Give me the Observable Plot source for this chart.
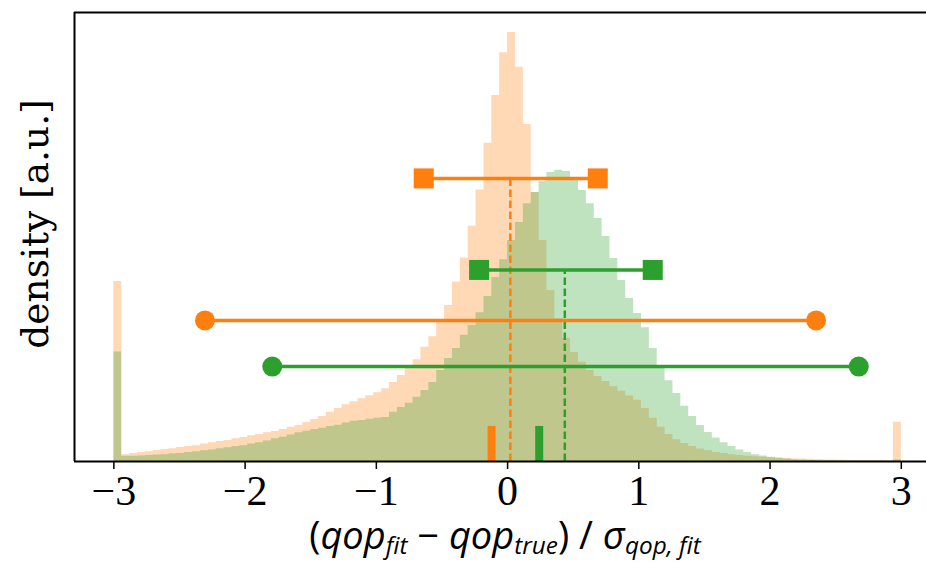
<!DOCTYPE html>
<html>
<head>
<meta charset="utf-8">
<script src="https://cdn.jsdelivr.net/npm/d3@7"></script>
<script src="https://cdn.jsdelivr.net/npm/@observablehq/plot@0.6"></script>
<style>
  html, body { margin: 0; padding: 0; background: #fff; overflow: hidden; }
  #wrap { position: relative; width: 926px; height: 564px; }
  #xlabel {
    position: absolute; left: 0; top: 519px; width: 1010px; text-align: center;
    font-family: "Open Sans", sans-serif; font-size: 38px; color: #000; line-height: 30px;
    white-space: nowrap;
  }
  #xlabel sub { font-size: 0.64em; vertical-align: -0.22em; line-height: 0; }
</style>
</head>
<body>
<div id="wrap"></div>
<script>
// Histogram binning (100 bins over [-3, 3], overflow folded into edge bins)
const binStart = -3;
const binWidth = 0.06;

// Orange histogram: normalized density per bin
const orangeDensity = [
  0.421, 0.016, 0.019, 0.021, 0.023, 0.026, 0.028, 0.030, 0.033, 0.035,
  0.037, 0.041, 0.044, 0.047, 0.049, 0.053, 0.056, 0.060, 0.063, 0.067,
  0.070, 0.075, 0.080, 0.084, 0.091, 0.098, 0.105, 0.115, 0.124, 0.133,
  0.140, 0.147, 0.154, 0.161, 0.170, 0.185, 0.201, 0.221, 0.238, 0.267,
  0.292, 0.330, 0.365, 0.419, 0.476, 0.550, 0.635, 0.744, 0.856, 0.956,
  1.003, 0.922, 0.788, 0.629, 0.517, 0.400, 0.334, 0.288, 0.255, 0.232,
  0.213, 0.199, 0.187, 0.175, 0.164, 0.153, 0.143, 0.124, 0.101, 0.080,
  0.063, 0.051, 0.042, 0.035, 0.029, 0.025, 0.021, 0.019, 0.016, 0.014,
  0.012, 0.011, 0.010, 0.009, 0.008, 0.007, 0.006, 0.0056, 0.005, 0.0042,
  0.0037, 0.0033, 0.0028, 0.0023, 0.002, 0.002, 0.0018, 0.0018, 0.0016, 0.092
];

// Green histogram: normalized density per bin
const greenDensity = [
  0.256, 0.012, 0.012, 0.013, 0.014, 0.015, 0.016, 0.018, 0.019, 0.021,
  0.023, 0.025, 0.027, 0.030, 0.032, 0.035, 0.037, 0.041, 0.044, 0.048,
  0.053, 0.057, 0.062, 0.067, 0.071, 0.075, 0.078, 0.082, 0.085, 0.090,
  0.094, 0.096, 0.099, 0.101, 0.103, 0.115, 0.126, 0.136, 0.150, 0.166,
  0.185, 0.213, 0.241, 0.264, 0.295, 0.318, 0.348, 0.386, 0.430, 0.472,
  0.517, 0.559, 0.603, 0.629, 0.655, 0.676, 0.681, 0.678, 0.659, 0.634,
  0.603, 0.568, 0.526, 0.475, 0.423, 0.381, 0.346, 0.313, 0.264, 0.222,
  0.189, 0.159, 0.129, 0.105, 0.084, 0.068, 0.055, 0.044, 0.035, 0.027,
  0.021, 0.016, 0.013, 0.010, 0.0075, 0.0056, 0.0042, 0.003, 0.0023, 0.0018,
  0.0015, 0.0013, 0.0012, 0.0011, 0.001, 0.001, 0.0009, 0.0009, 0.0008, 0.0035
];

// Interval bars (series, low, high, level, end marker)
const intervalSeries = ["orange", "green", "orange", "green"];
const intervalLow    = [-0.639, -0.217, -2.306, -1.793];
const intervalHigh   = [0.687, 1.106, 2.351, 2.676];
const intervalLevel  = [0.662, 0.448, 0.330, 0.222];
const intervalMarker = ["square", "square", "circle", "circle"];

// Means (dashed) and medians (short solid bars)
const meanSeries = ["orange", "green"];
const meanValue  = [0.021, 0.436];
const meanTop    = [0.662, 0.448];
const medianSeries = ["orange", "green"];
const medianValue  = [-0.122, 0.241];
const medianHeight = [0.082, 0.082];

const xTicks = [-3, -2, -1, 0, 1, 2, 3];

const colors = {orange: "#ff7f0e", green: "#2ca02c"};

function histPoints(vals) {
  const pts = vals.map((v, i) => ({x: binStart + i * binWidth, y: v}));
  pts.push({x: binStart + vals.length * binWidth, y: vals[vals.length - 1]});
  return pts;
}

const intervals = intervalSeries.map((s, i) => ({
  c: colors[s], lo: intervalLow[i], hi: intervalHigh[i], y: intervalLevel[i], m: intervalMarker[i]
}));
const ends = intervals.flatMap(d => [{c: d.c, x: d.lo, y: d.y, m: d.m}, {c: d.c, x: d.hi, y: d.y, m: d.m}]);
const means = meanSeries.map((s, i) => ({c: colors[s], x: meanValue[i], top: meanTop[i]}));
const medians = medianSeries.map((s, i) => ({c: colors[s], x: medianValue[i], h: medianHeight[i]}));

const yMax = 1.05;
const xMin = -3.3;

const svg = Plot.plot({
  width: 926,
  height: 516,
  marginTop: 12,
  marginBottom: 55,
  marginLeft: 74,
  marginRight: 0,
  style: {background: "#fff", color: "#000", overflow: "visible"},
  x: {domain: [xMin, 3.192]},
  y: {domain: [0, yMax], axis: null},
  color: {type: "identity"},
  marks: [
    Plot.areaY(histPoints(orangeDensity), {x: "x", y: "y", curve: "step-after", fill: colors.orange, fillOpacity: 0.3}),
    Plot.areaY(histPoints(greenDensity), {x: "x", y: "y", curve: "step-after", fill: colors.green, fillOpacity: 0.3}),
    Plot.ruleX(medians, {x: "x", y1: 0, y2: "h", stroke: "c", strokeWidth: 8}),
    Plot.ruleX(means, {x: "x", y1: 0, y2: "top", stroke: "c", strokeWidth: 2.5, strokeDasharray: "7.5,3.5"}),
    Plot.ruleY(intervals, {y: "y", x1: "lo", x2: "hi", stroke: "c", strokeWidth: 3.5}),
    Plot.dot(ends.filter(d => d.m === "square"), {x: "x", y: "y", fill: "c", symbol: "square", r: 11.3, stroke: null}),
    Plot.dot(ends.filter(d => d.m === "circle"), {x: "x", y: "y", fill: "c", r: 10, stroke: null}),
    Plot.ruleX([xMin], {stroke: "#000", strokeWidth: 2}),
    Plot.ruleY([0], {stroke: "#000", strokeWidth: 2}),
    Plot.ruleY([yMax], {stroke: "#000", strokeWidth: 2}),
    Plot.axisX({
      ticks: xTicks, tickSize: 8, tickPadding: 6, strokeWidth: 1.5,
      tickFormat: d => (d < 0 ? "\u2212" : "") + Math.abs(d),
      fontSize: 42, fontFamily: "Liberation Serif", fill: "#000", label: null
    })
  ]
});

document.getElementById("wrap").appendChild(svg);

// y-axis label
d3.select(svg).append("text")
  .attr("transform", "translate(48,224) rotate(-90)")
  .attr("text-anchor", "middle")
  .attr("font-family", "DejaVu Serif")
  .attr("font-size", 37.5)
  .attr("fill", "#000")
  .text("density [a.u.]");

// x-axis label
const xl = document.createElement("div");
xl.id = "xlabel";
xl.innerHTML = "(<i>qop</i><sub><i>fit</i></sub> − <i>qop</i><sub><i>true</i></sub>) / <i>σ</i><sub><i>qop, fit</i></sub>";
document.getElementById("wrap").appendChild(xl);
</script>
</body>
</html>
